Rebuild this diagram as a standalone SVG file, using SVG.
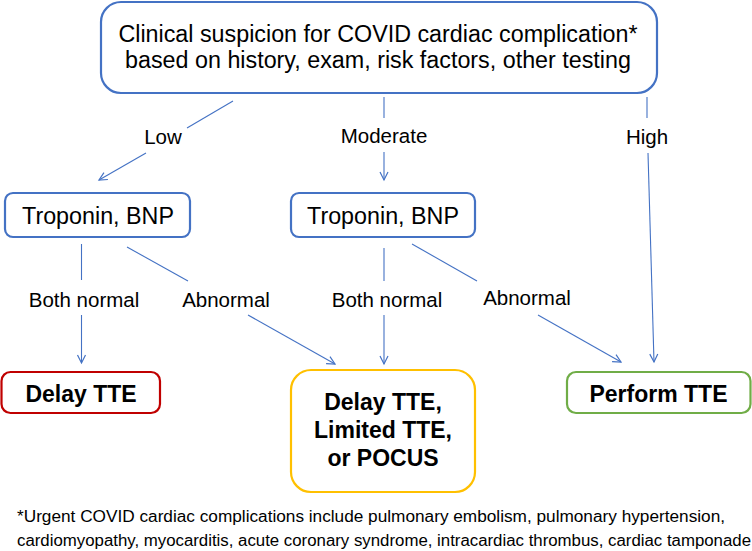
<svg xmlns="http://www.w3.org/2000/svg" width="752" height="551" viewBox="0 0 752 551">
<style>
.box{fill:#fff;stroke:#4472C4;stroke-width:2.2}
.t{font-family:"Liberation Sans",Arial,sans-serif;fill:#000;text-anchor:middle}
.big{font-size:23.3px}
.lab{font-size:20.5px}
.bold{font-size:23px;font-weight:bold}
.foot{font-family:"Liberation Sans",Arial,sans-serif;font-size:16px;fill:#000}
.c line{stroke:#4472C4;stroke-width:1.1;fill:none}
</style>
<defs>
<marker id="arr" markerUnits="userSpaceOnUse" markerWidth="12" markerHeight="12" viewBox="-10 -6 12 12" refX="0" refY="0" orient="auto">
<path d="M-8,-4 L0,0 L-8,4" fill="none" stroke="#4472C4" stroke-width="1.2"/>
</marker>
</defs>
<rect width="752" height="551" fill="#fff"/>
<g id="top">
<rect class="box" x="101" y="2" width="556" height="91" rx="20" stroke-width="2.5"/>
<text class="t big" x="378" y="42">Clinical suspicion for COVID cardiac complication*</text>
<text class="t big" x="378" y="68">based on history, exam, risk factors, other testing</text>
</g>
<g id="trop1">
<rect class="box" x="5" y="193" width="185" height="44" rx="8"/>
<text class="t big" x="98" y="224">Troponin, BNP</text>
</g>
<g id="trop2">
<rect class="box" x="291" y="193" width="184" height="44" rx="8"/>
<text class="t big" x="383" y="224">Troponin, BNP</text>
</g>
<g id="delay">
<rect x="1.5" y="372" width="158.5" height="41" rx="9" fill="#fff" stroke="#C00000" stroke-width="2.2"/>
<text class="t bold" x="81" y="402">Delay TTE</text>
</g>
<g id="limited">
<rect x="291" y="370" width="184" height="122" rx="20" fill="#fff" stroke="#FFC000" stroke-width="2.2"/>
<text class="t bold" x="383" y="410">Delay TTE,</text>
<text class="t bold" x="383" y="438">Limited TTE,</text>
<text class="t bold" x="383" y="466">or POCUS</text>
</g>
<g id="perform">
<rect x="567" y="372" width="183.5" height="41" rx="9" fill="#fff" stroke="#70AD47" stroke-width="2.2"/>
<text class="t bold" x="658.5" y="402">Perform TTE</text>
</g>
<g id="connectors" class="c">
<line x1="233" y1="101" x2="187" y2="128"/>
<line x1="146" y1="153" x2="99" y2="180" marker-end="url(#arr)"/>
<line x1="384" y1="97" x2="384" y2="118"/>
<line x1="384" y1="152" x2="384" y2="180" marker-end="url(#arr)"/>
<line x1="647" y1="97" x2="647" y2="118"/>
<line x1="648" y1="153" x2="654" y2="362" marker-end="url(#arr)"/>
<line x1="81.5" y1="244" x2="81.5" y2="280"/>
<line x1="81.5" y1="315" x2="81.5" y2="363" marker-end="url(#arr)"/>
<line x1="127" y1="247" x2="188" y2="281"/>
<line x1="248" y1="315" x2="335" y2="364" marker-end="url(#arr)"/>
<line x1="384" y1="248" x2="384" y2="281"/>
<line x1="384" y1="315" x2="384" y2="364" marker-end="url(#arr)"/>
<line x1="412" y1="244" x2="477" y2="281"/>
<line x1="538" y1="315" x2="621" y2="362" marker-end="url(#arr)"/>
</g>
<g id="labels">
<text class="t lab" x="163" y="144">Low</text>
<text class="t lab" x="384" y="143">Moderate</text>
<text class="t lab" x="647" y="144">High</text>
<text class="t lab" x="84" y="307">Both normal</text>
<text class="t lab" x="226" y="307">Abnormal</text>
<text class="t lab" x="387" y="307">Both normal</text>
<text class="t lab" x="527" y="305">Abnormal</text>
</g>
<g id="footnote">
<text class="foot" x="17" y="522" textLength="708" lengthAdjust="spacingAndGlyphs">*Urgent COVID cardiac complications include pulmonary embolism, pulmonary hypertension,</text>
<text class="foot" x="17" y="546" textLength="734" lengthAdjust="spacingAndGlyphs">cardiomyopathy, myocarditis, acute coronary syndrome, intracardiac thrombus, cardiac tamponade</text>
</g>
</svg>
